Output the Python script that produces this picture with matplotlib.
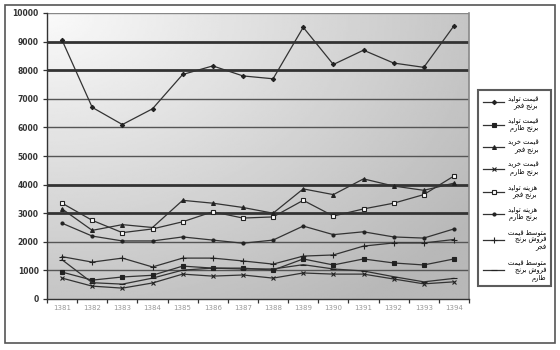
import matplotlib.pyplot as plt
import numpy as np
from matplotlib.patches import Rectangle

# data
years = ['1381', '1382', '1383', '1384', '1385', '1386', '1387',
         '1388', '1389', '1390', '1391', '1392', '1393', '1394']

s1 = [9050, 6700, 6100, 6650, 7850, 8150, 7800, 7700, 9500, 8200, 8700, 8250, 8100, 9550]
s2 = [940, 660, 770, 830, 1150, 1080, 1080, 1010, 1400, 1190, 1400, 1260, 1190, 1400]
s3 = [3150, 2400, 2600, 2500, 3450, 3350, 3200, 3000, 3850, 3650, 4200, 3950, 3800, 4050]
s4 = [730, 450, 380, 560, 870, 800, 840, 730, 910, 870, 870, 700, 530, 600]
s5 = [3350, 2750, 2320, 2450, 2700, 3050, 2830, 2870, 3450, 2900, 3150, 3350, 3650, 4300]
s6 = [2650, 2200, 2030, 2030, 2170, 2060, 1950, 2060, 2550, 2250, 2350, 2170, 2130, 2450]
s7 = [1480, 1290, 1430, 1120, 1430, 1430, 1330, 1220, 1500, 1540, 1850, 1960, 1960, 2080]
s8 = [1370, 570, 520, 730, 1010, 1080, 1050, 1050, 1200, 1050, 980, 780, 600, 720]

labels = ['قیمت تولید\nبرنج فجر',
          'قیمت تولید\nبرنج طارم',
          'قیمت خرید\nبرنج فجر',
          'قیمت خرید\nبرنج طارم',
          'هزینه تولید\nبرنج فجر',
          'هزینه تولید\nبرنج طارم',
          'متوسط قیمت\nفروش برنج\nفجر',
          'متوسط قیمت\nفروش برنج\nطارم']

yticks = [0, 1000, 2000, 3000, 4000, 5000, 6000, 7000, 8000, 9000, 10000]

# simple arabic shaping: iso, fin, init, med
FORMS = {
    'ا': ('\uFE8D', '\uFE8E', None, None),
    'ب': ('\uFE8F', '\uFE90', '\uFE91', '\uFE92'),
    'ت': ('\uFE95', '\uFE96', '\uFE97', '\uFE98'),
    'ج': ('\uFE9D', '\uFE9E', '\uFE9F', '\uFEA0'),
    'خ': ('\uFEA5', '\uFEA6', '\uFEA7', '\uFEA8'),
    'د': ('\uFEA9', '\uFEAA', None, None),
    'ر': ('\uFEAD', '\uFEAE', None, None),
    'ز': ('\uFEAF', '\uFEB0', None, None),
    'س': ('\uFEB1', '\uFEB2', '\uFEB3', '\uFEB4'),
    'ش': ('\uFEB5', '\uFEB6', '\uFEB7', '\uFEB8'),
    'ط': ('\uFEC1', '\uFEC2', '\uFEC3', '\uFEC4'),
    'ف': ('\uFED1', '\uFED2', '\uFED3', '\uFED4'),
    'ق': ('\uFED5', '\uFED6', '\uFED7', '\uFED8'),
    'ل': ('\uFEDD', '\uFEDE', '\uFEDF', '\uFEE0'),
    'م': ('\uFEE1', '\uFEE2', '\uFEE3', '\uFEE4'),
    'ن': ('\uFEE5', '\uFEE6', '\uFEE7', '\uFEE8'),
    'ه': ('\uFEE9', '\uFEEA', '\uFEEB', '\uFEEC'),
    'و': ('\uFEED', '\uFEEE', None, None),
    'ی': ('\uFEEF', '\uFEF0', '\uFEF3', '\uFEF4'),
}


def shape_line(s):
    out = []
    for i, c in enumerate(s):
        if c not in FORMS:
            out.append(c)
            continue
        prev = s[i - 1] if i > 0 else ''
        nxt = s[i + 1] if i < len(s) - 1 else ''
        jp = prev in FORMS and FORMS[prev][2] is not None
        jn = nxt in FORMS and FORMS[c][2] is not None
        iso, fin, ini, med = FORMS[c]
        if jp and jn:
            out.append(med)
        elif jp:
            out.append(fin)
        elif jn:
            out.append(ini)
        else:
            out.append(iso)
    return ''.join(out)[::-1]


def shape(s):
    return '\n'.join(shape_line(l) for l in s.split('\n'))


fig = plt.figure(figsize=(5.6, 3.5), dpi=100)
ax = fig.add_axes([47 / 560, 1 - 299 / 350, 422 / 560, 286 / 350])

# gradient background of the plot area
gx, gy = np.meshgrid(np.linspace(0, 1, 200), np.linspace(0, 1, 200))
dist = np.sqrt(gx ** 2 + gy ** 2) / 1.25
bg = 0.98 - 0.26 * np.clip(dist, 0, 1)
ax.imshow(bg, cmap='gray', vmin=0, vmax=1, extent=[0, 1, 0, 1], origin='upper',
          transform=ax.transAxes, aspect='auto', zorder=0)

# gridlines
for v in yticks[1:]:
    if v in (3000, 4000, 8000, 9000):
        ax.axhline(v, color='#333333', lw=2.0, zorder=1)
    elif v == 10000:
        ax.axhline(v, color='#888888', lw=1.0, zorder=1)
    else:
        ax.axhline(v, color='#555555', lw=1.0, zorder=1)

x = np.arange(len(years))
series = [s1, s2, s3, s4, s5, s6, s7, s8]
markers = ['D', 's', '^', 'x', 's', 'o', '+', '_']
faces = ['#222222', '#222222', '#222222', '#222222', 'white', '#222222', '#222222', '#222222']
sizes = [2.2, 3.0, 2.8, 3.0, 3.5, 2.2, 4.0, 4.0]
for s, m, fc, ms, lab in zip(series, markers, faces, sizes, labels):
    ax.plot(x, s, color='#333333', lw=0.9, marker=m, ms=ms, mfc=fc,
            mec='#222222', mew=0.8, label=shape(lab), zorder=3)

ax.set_xlim(-0.5, len(years) - 0.5)
ax.set_ylim(0, 10000)
ax.set_yticks(yticks)
ax.set_yticklabels([str(v) for v in yticks], fontsize=5.5, fontweight='bold', color='#333333')
ax.set_xticks(x)
ax.set_xticklabels(years, fontsize=5, color='#999999')
ax.set_xticks(np.arange(-0.5, len(years), 1), minor=True)
ax.tick_params(axis='x', which='major', length=0, pad=4)
ax.tick_params(axis='x', which='minor', length=3, width=0.9, color='#333333')
ax.tick_params(axis='y', length=3, width=0.9, color='#333333', pad=3)

for side in ('top', 'right'):
    ax.spines[side].set_visible(False)
ax.spines['left'].set_color('#333333')
ax.spines['bottom'].set_color('#333333')
ax.spines['left'].set_linewidth(1.0)
ax.spines['bottom'].set_linewidth(1.0)
ax.plot([1, 1], [0, 1], transform=ax.transAxes, color='#888888', lw=1.2, clip_on=False)

leg = fig.legend(loc='upper left', bbox_to_anchor=(475 / 560, 1 - 87 / 350),
                 prop={'family': 'DejaVu Sans', 'size': 4.8}, handlelength=3.2,
                 handletextpad=0.5, labelspacing=1.15, borderpad=0.7,
                 fancybox=False, frameon=True, edgecolor='#333333')
leg.get_frame().set_linewidth(1.5)
leg.get_frame().set_facecolor('white')
for t in leg.get_texts():
    t.set_multialignment('right')

# outer frame round the whole chart
fig.patches.append(Rectangle((5 / 560, 7 / 350), 550 / 560, 338 / 350,
                             transform=fig.transFigure, fill=False,
                             edgecolor='#555555', lw=1.2))

fig.savefig('out.png', dpi=100)
